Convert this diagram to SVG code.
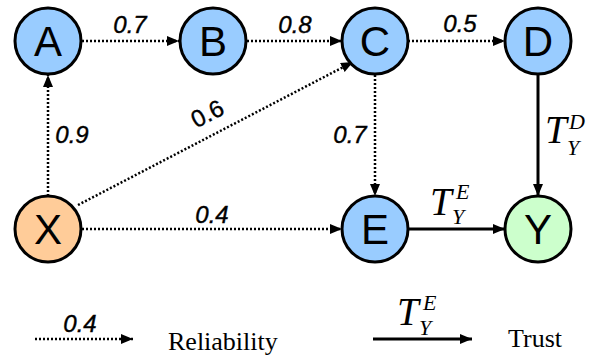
<svg xmlns="http://www.w3.org/2000/svg" width="609" height="360" viewBox="0 0 609 360">
<style>
.node{stroke:#000;stroke-width:3}
.blue{fill:#99ccff}
.orange{fill:#ffcc99}
.green{fill:#ccffcc}
.nl{font-family:"Liberation Sans",Arial,sans-serif;font-size:42px;text-anchor:middle;fill:#000}
.dot{fill:none;stroke:#000;stroke-width:2.5;stroke-dasharray:2 2}
.sol{fill:none;stroke:#000;stroke-width:3}
.lbl{font-family:"Liberation Sans",Arial,sans-serif;font-size:24px;font-style:italic;text-anchor:middle;fill:#000;stroke:#000;stroke-width:0.4}
.math{font-family:"Liberation Serif","Times New Roman",serif;font-style:italic;fill:#000}
.big{font-size:39px}
.sm{font-size:22px}
.leg{font-family:"Liberation Serif","Times New Roman",serif;font-size:26px;fill:#000}
</style>
<defs>
<marker id="ah" markerWidth="12" markerHeight="10" refX="12" refY="5" orient="auto" markerUnits="userSpaceOnUse">
<path d="M0,0 L12,5 L0,10 Z" fill="#000"/>
</marker>
</defs>
<g id="connectors">
<line class="dot" x1="82" y1="41" x2="179" y2="41" marker-end="url(#ah)"/>
<line class="dot" x1="247" y1="41" x2="342" y2="41" marker-end="url(#ah)"/>
<line class="dot" x1="408" y1="41" x2="505" y2="41" marker-end="url(#ah)"/>
<line class="dot" x1="48" y1="196" x2="48" y2="75" marker-end="url(#ah)"/>
<line class="dot" x1="375" y1="75" x2="375" y2="196" marker-end="url(#ah)"/>
<line class="dot" x1="82" y1="229" x2="342" y2="229" marker-end="url(#ah)"/>
<line class="dot" x1="78" y1="205" x2="353" y2="62" marker-end="url(#ah)"/>
<line class="sol" x1="408" y1="229" x2="505" y2="229" marker-end="url(#ah)"/>
<line class="sol" x1="538" y1="75" x2="538" y2="196" marker-end="url(#ah)"/>
<text class="lbl" x="130" y="33">0.7</text>
<text class="lbl" x="295" y="33">0.8</text>
<text class="lbl" x="460" y="32">0.5</text>
<text class="lbl" x="72" y="143">0.9</text>
<text class="lbl" x="350" y="143">0.7</text>
<text class="lbl" x="212" y="223">0.4</text>
<text class="lbl" style="font-style:normal" transform="translate(211,121) rotate(-27)" x="0" y="0">0.6</text>
<text class="math big" x="430" y="215">T</text>
<text class="math sm" x="456" y="199">E</text>
<text class="math sm" x="452" y="224">Y</text>
<text class="math big" x="545" y="143">T</text>
<text class="math sm" x="569" y="129">D</text>
<text class="math sm" x="567" y="155">Y</text>
</g>
<g id="A"><circle class="node blue" cx="48" cy="41" r="33"/><text class="nl" x="48" y="56">A</text></g>
<g id="B"><circle class="node blue" cx="213" cy="41" r="33"/><text class="nl" x="213" y="56">B</text></g>
<g id="C"><circle class="node blue" cx="375" cy="41" r="33"/><text class="nl" x="375" y="56">C</text></g>
<g id="D"><circle class="node blue" cx="538" cy="41" r="33"/><text class="nl" x="538" y="56">D</text></g>
<g id="X"><circle class="node orange" cx="48" cy="229" r="33"/><text class="nl" x="48" y="244">X</text></g>
<g id="E"><circle class="node blue" cx="375" cy="229" r="33"/><text class="nl" x="375" y="244">E</text></g>
<g id="Y"><circle class="node green" cx="538" cy="229" r="33"/><text class="nl" x="538" y="244">Y</text></g>
<g id="legend">
<line class="dot" x1="35" y1="339" x2="133" y2="339" marker-end="url(#ah)"/>
<text class="lbl" x="80" y="332">0.4</text>
<text class="leg" x="168" y="350">Reliability</text>
<line class="sol" x1="373" y1="339" x2="472" y2="339" marker-end="url(#ah)"/>
<text class="math big" x="397" y="325">T</text>
<text class="math sm" x="423" y="310">E</text>
<text class="math sm" x="419" y="335">Y</text>
<text class="leg" x="508" y="347">Trust</text>
</g>
</svg>
